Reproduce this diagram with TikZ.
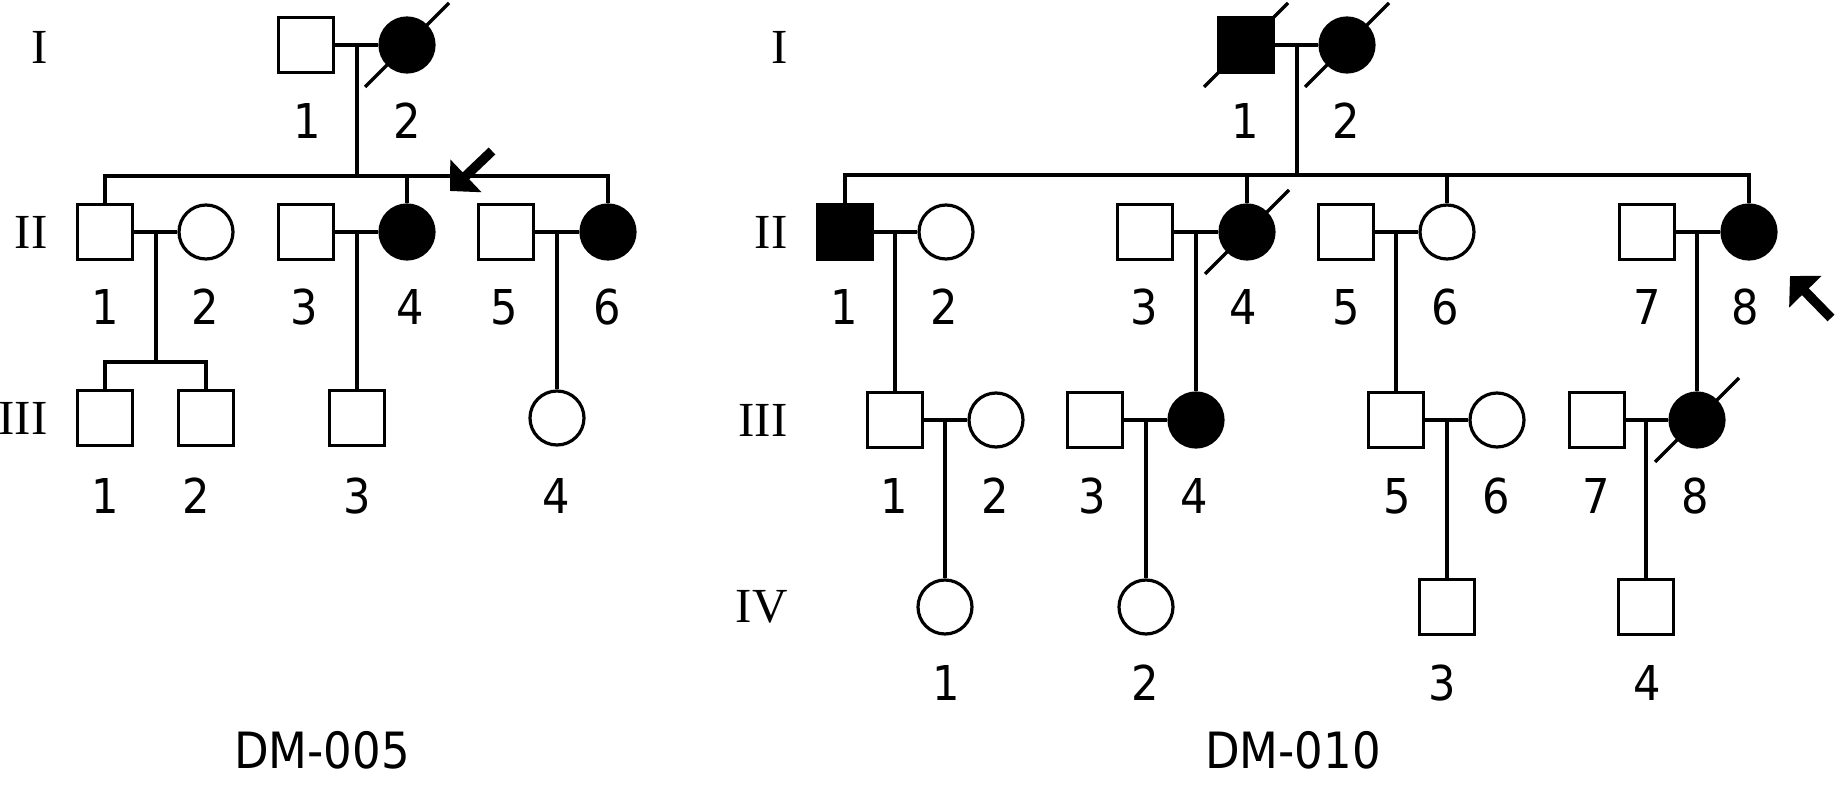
\documentclass[tikz,border=0pt]{standalone}
\usepackage{fontspec}
\newfontfamily\numfont{DejaVu Sans Condensed}
\newfontfamily\genfont{Liberation Serif}
\usetikzlibrary{arrows.meta}

\tikzset{
	male/.style={rectangle, draw, minimum size=27.5pt, inner sep=0pt},
	female/.style={circle, draw, minimum size=27pt, inner sep=0pt},
	aff/.style={fill=black},
	num/.style={font=\numfont\fontsize{24}{28}\selectfont, inner sep=0pt},
	famname/.style={font=\numfont\fontsize{25}{30}\selectfont, inner sep=0pt},
	gen/.style={font=\genfont\fontsize{24.5}{30}\selectfont, inner sep=0pt, anchor=east},
	proband/.style={line width=4.8pt, -{Triangle[length=11pt, width=22pt]}}
}

\begin{document}
\begin{tikzpicture}[x=0.5pt, y=-0.5pt, line width=1.6pt]

	\useasboundingbox (0,0) rectangle (1844,786);

	\node (lI1) [male] at (306, 45) {};
	\node (lI2) [female, aff] at (407, 45) {};
	\node (lII1) [male] at (105, 232) {};
	\node (lII2) [female] at (206, 232) {};
	\node (lII3) [male] at (306, 232) {};
	\node (lII4) [female, aff] at (407, 232) {};
	\node (lII5) [male] at (506, 232) {};
	\node (lII6) [female, aff] at (608, 232) {};
	\node (lIII1) [male] at (105, 418) {};
	\node (lIII2) [male] at (206, 418) {};
	\node (lIII3) [male] at (357, 418) {};
	\node (lIII4) [female] at (557, 418) {};

	\coordinate (lm1) at (357, 45);
	\coordinate (lsib) at (357, 176);
	\coordinate (lm2) at (156, 232);
	\coordinate (lsib2) at (156, 362);
	\coordinate (lm3) at (357, 232);
	\coordinate (lm4) at (557, 232);

	\path
	(lI1) edge (lI2)
	(lm1) edge (lsib)
	(lsib -| lII4) edge (lII4)
	(lII1) edge (lII2)
	(lII3) edge (lII4)
	(lII5) edge (lII6)
	(lm2) edge (lsib2)
	(lm3) edge (lIII3)
	(lm4) edge (lIII4);
	\draw (lII1) |- (lsib) -| (lII6);
	\draw (lIII1) |- (lsib2) -| (lIII2);

	\node (rI1) [male, aff] at (1246, 45) {};
	\node (rI2) [female, aff] at (1347, 45) {};
	\node (rII1) [male, aff] at (845, 232) {};
	\node (rII2) [female] at (946, 232) {};
	\node (rII3) [male] at (1145, 232) {};
	\node (rII4) [female, aff] at (1247, 232) {};
	\node (rII5) [male] at (1346, 232) {};
	\node (rII6) [female] at (1447, 232) {};
	\node (rII7) [male] at (1647, 232) {};
	\node (rII8) [female, aff] at (1749, 232) {};
	\node (rIII1) [male] at (895, 420) {};
	\node (rIII2) [female] at (996, 420) {};
	\node (rIII3) [male] at (1095, 420) {};
	\node (rIII4) [female, aff] at (1196, 420) {};
	\node (rIII5) [male] at (1396, 420) {};
	\node (rIII6) [female] at (1497, 420) {};
	\node (rIII7) [male] at (1597, 420) {};
	\node (rIII8) [female, aff] at (1697, 420) {};
	\node (rIV1) [female] at (945, 607) {};
	\node (rIV2) [female] at (1146, 607) {};
	\node (rIV3) [male] at (1447, 607) {};
	\node (rIV4) [male] at (1646, 607) {};

	\coordinate (rm1) at (1297, 45);
	\coordinate (rsib) at (1297, 175);
	\coordinate (rm2) at (895, 232);
	\coordinate (rm3) at (1196, 232);
	\coordinate (rm4) at (1396, 232);
	\coordinate (rm5) at (1697, 232);
	\coordinate (rm6) at (945, 420);
	\coordinate (rm7) at (1146, 420);
	\coordinate (rm8) at (1447, 420);
	\coordinate (rm9) at (1646, 420);

	\path
	(rI1) edge (rI2)
	(rm1) edge (rsib)
	(rsib -| rII4) edge (rII4)
	(rsib -| rII6) edge (rII6)
	(rII1) edge (rII2)
	(rII3) edge (rII4)
	(rII5) edge (rII6)
	(rII7) edge (rII8)
	(rm2) edge (rIII1)
	(rm3) edge (rIII4)
	(rm4) edge (rIII5)
	(rm5) edge (rIII8)
	(rIII1) edge (rIII2)
	(rIII3) edge (rIII4)
	(rIII5) edge (rIII6)
	(rIII7) edge (rIII8)
	(rm6) edge (rIV1)
	(rm7) edge (rIV2)
	(rm8) edge (rIV3)
	(rm9) edge (rIV4);
	\draw (rII1) |- (rsib) -| (rII8);

	\foreach \n in {lI2, rI1, rI2, rII4, rIII8}
		\draw ([shift={(-42,42)}]\n.center) -- ([shift={(42,-42)}]\n.center);

	\coordinate (pa1) at (492, 151);
	\coordinate (pa2) at (450, 191);
	\coordinate (pb1) at (1831, 318);
	\coordinate (pb2) at (1790, 276);
	\draw[proband] (pa1) -- (pa2);
	\draw[proband] (pb1) -- (pb2);

	\node (lgI) [gen] at (49, 47) {I};
	\node (lgII) [gen] at (49, 232) {II};
	\node (lgIII) [gen] at (49, 418) {III};
	\node (rgI) [gen] at (789, 47) {I};
	\node (rgII) [gen] at (789, 232) {II};
	\node (rgIII) [gen] at (789, 420) {III};
	\node (rgIV) [gen] at (789, 607) {IV};

	\foreach \x/\t in {307/1, 407/2}
		\node (lnI\t) [num] at (\x, 121) {\t};
	\foreach \x/\t in {105/1, 205/2, 304/3, 410/4, 504/5, 607/6}
		\node (lnII\t) [num] at (\x, 307) {\t};
	\foreach \x/\t in {105/1, 196/2, 357/3, 556/4}
		\node (lnIII\t) [num] at (\x, 496) {\t};
	\foreach \x/\t in {1245/1, 1346/2}
		\node (rnI\t) [num] at (\x, 121) {\t};
	\foreach \x/\t in {844/1, 944/2, 1144/3, 1243/4, 1346/5, 1445/6, 1647/7, 1745/8}
		\node (rnII\t) [num] at (\x, 307) {\t};
	\foreach \x/\t in {894/1, 995/2, 1092/3, 1194/4, 1397/5, 1496/6, 1596/7, 1695/8}
		\node (rnIII\t) [num] at (\x, 496) {\t};
	\foreach \x/\t in {946/1, 1145/2, 1442/3, 1647/4}
		\node (rnIV\t) [num] at (\x, 683) {\t};

	\node (dm005) [famname] at (322, 750) {DM-005};
	\node (dm010) [famname] at (1293, 750) {DM-010};

\end{tikzpicture}
\end{document}
